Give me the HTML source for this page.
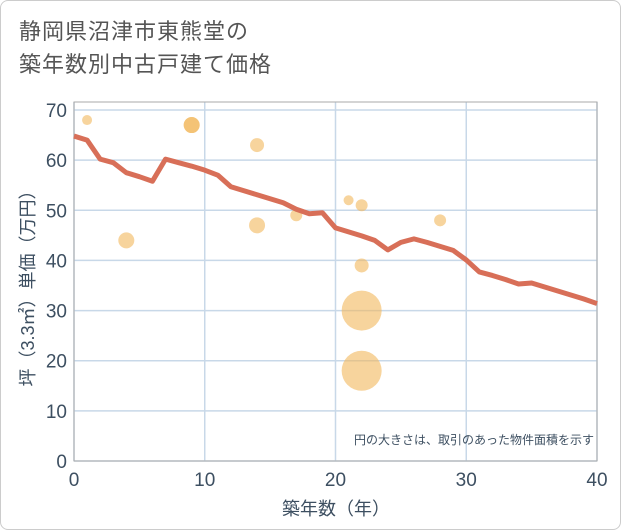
<!DOCTYPE html>
<html><head><meta charset="utf-8"><style>
body{margin:0;background:#fff;font-family:"Liberation Sans","Noto Sans CJK JP",sans-serif}
#wrap{position:relative;width:619px;height:528px;border:1px solid #ccc;border-radius:8px;overflow:hidden}
#title{position:absolute;left:18px;top:14px;font-size:22px;line-height:33px;color:#555;letter-spacing:1px}
svg{position:absolute;left:0;top:0}
</style></head><body>
<div id="wrap">
<div id="title">静岡県沼津市東熊堂の<br>築年数別中古戸建て価格</div>
<svg id="chart" width="621" height="530"></svg>
</div>
<script>
const lineYears=[0,1,2,3,4,5,6,7,8,9,10,11,12,13,14,15,16,17,18,19,20,21,22,23,24,25,26,27,28,29,30,31,32,33,34,35,36,37,38,39,40];
const lineValues=[64.8,64,60.2,59.5,57.5,56.7,55.8,60.2,59.5,58.8,58,57,54.7,53.9,53.1,52.3,51.5,50.2,49.3,49.5,46.5,45.7,44.9,44,42.1,43.6,44.3,43.6,42.8,42,40.1,37.7,37,36.2,35.3,35.5,34.7,33.9,33.1,32.3,31.4];
const ptYears=[1,4,9,9,14,14,17,21,22,22,22,22,28];
const ptValues=[68,44,67,67,63,47,49,52,51,39,30,18,48];
const ptRadius=[5,8,8,8,7,8,6,5,6,7,20,20,6];
const xTicks=[0,10,20,30,40];
const yTicks=[0,10,20,30,40,50,60,70];
const NS="http://www.w3.org/2000/svg";
const svg=document.getElementById('chart');
const X=v=>73+v*(596-73)/40, Y=v=>460-v*(460-109)/70;
const TC='#3d4f61';
function mk(t,a,p){const e=document.createElementNS(NS,t);for(const k in a)e.setAttribute(k,a[k]);(p||svg).appendChild(e);return e;}
yTicks.forEach(v=>{
const l=mk('line',{x1:73,x2:596,y1:Y(v),y2:Y(v),stroke:'#c8d8e8','stroke-width':1.5});


const t=mk('text',{x:66,y:Y(v)+7,'text-anchor':'end','font-size':19,fill:TC});t.textContent=v;


});
xTicks.forEach(v=>{
const l=mk('line',{x1:X(v),x2:X(v),y1:101,y2:460,stroke:'#c8d8e8','stroke-width':1.5});


const t=mk('text',{x:X(v),y:485,'text-anchor':'middle','font-size':19,fill:TC});t.textContent=v;


});
const fr=mk('rect',{x:73,y:101,width:523,height:359,fill:'none',stroke:'#aaa','stroke-width':1});


ptYears.forEach((yr,i)=>{
const c=mk('circle',{cx:X(yr),cy:Y(ptValues[i]),r:ptRadius[i],fill:'rgba(242,184,92,0.6)'});


});
const pl=mk('polyline',{points:lineYears.map((y,i)=>X(y)+','+Y(lineValues[i])).join(' '),fill:'none',stroke:'#d86f58','stroke-width':5,'stroke-linejoin':'round'});


const n=mk('text',{x:593,y:443,'text-anchor':'end','font-size':12,fill:TC});n.textContent='円の大きさは、取引のあった物件面積を示す';


const xt=mk('text',{x:335,y:514,'text-anchor':'middle','font-size':18,fill:TC});xt.textContent='築年数（年）';


const yt=mk('text',{x:0,y:0,'text-anchor':'middle','font-size':18,fill:TC,transform:'translate(33,283) rotate(-90)'});yt.textContent='坪（3.3㎡）単価（万円）';


</script>
</body></html>
